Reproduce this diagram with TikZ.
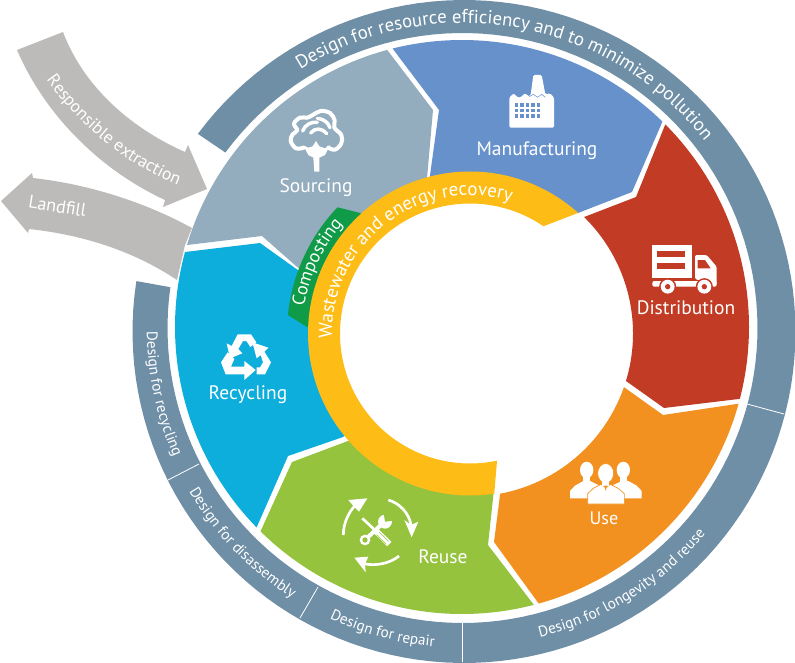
\documentclass[tikz,border=0pt]{standalone}
\usepackage{fontspec}
\setmainfont{PT Sans}
\usetikzlibrary{decorations.text}
\definecolor{cring}{HTML}{6F8FA7}
\definecolor{csrc}{HTML}{93ADBE}
\definecolor{cman}{HTML}{6791CB}
\definecolor{cdis}{HTML}{C23C25}
\definecolor{cuse}{HTML}{F39120}
\definecolor{creu}{HTML}{95C33D}
\definecolor{crec}{HTML}{0DADDC}
\definecolor{cyel}{HTML}{FDBD16}
\definecolor{ccom}{HTML}{0F9B48}
\definecolor{cgre}{HTML}{BDBBB9}
% arcs given in px (y down), angles in the usual mathematical sense
\newcommand\arcm[5]{plot[domain=#4:#5,samples=140,variable=\t] ({#1+#3*cos(\t)},{#2-#3*sin(\t)})}
\newcommand\arcl[5]{-- plot[domain=#4:#5,samples=140,variable=\t] ({#1+#3*cos(\t)},{#2-#3*sin(\t)})}
\newcommand\fz[1]{\fontsize{#1}{#1}\selectfont}
\tikzset{
  lab/.style={text=white,inner sep=0pt,font=\fz{14.6}},
  big/.style={decorate,decoration={text along path,text align=center,text color=white,text={|\fz{14.05}|#1}}},
  wst/.style={decorate,decoration={text along path,text align=center,text color=white,text={|\fz{14.2}|#1}}},
  mid/.style={decorate,decoration={text along path,text align=center,text color=white,text={|\fz{13.6}|#1}}},
  ext/.style={decorate,decoration={text along path,text align=center,text color=white,text={|\fz{13.1}|#1}}},
  sma/.style={decorate,decoration={text along path,text align=center,text color=white,text={|\fz{11.4}|#1}}},
  icon/.style={shift={#1},x=0.25pt,y=-0.25pt}
}
\begin{document}
\begin{tikzpicture}[x=0.75pt,y=-0.75pt]
\useasboundingbox (0,0) rectangle (795,663);
% ---- outer ring
\fill[cring] \arcm{464}{331.5}{331.5}{143.4}{-188.75} \arcl{462.5}{328}{295}{-187.95}{143.5} -- cycle;
\coordinate (d1a) at (747,404); \coordinate (d1b) at (784,414);
\coordinate (d2a) at (462,623); \coordinate (d2b) at (462,662);
\coordinate (d3a) at (318,587); \coordinate (d3b) at (300,618);
\coordinate (d4a) at (199,464); \coordinate (d4b) at (168,480);
\foreach \n in {1,2,3,4} \draw[white,line width=0.6pt] (d\n a) -- (d\n b);
% ---- grey arrows
\fill[cgre] (63,32) .. controls (85,90) and (135,130) .. (185,152) -- (188,145) -- (207,189) -- (163,207) -- (165,200) .. controls (100,170) and (45,115) .. (17,50) -- cycle;
\fill[cgre] (1,201) -- (32,173) -- (33,178) .. controls (95,185) and (150,205) .. (192,228) -- (185,245) -- (177,280) .. controls (135,252) and (85,235) .. (29,229) -- (28,233) -- cycle;
% ---- wedges
\fill[csrc] \arcm{462}{327}{287}{163.4}{105.1} -- (433,110) -- (426,190) -- (305,273) -- (296,266) -- (262,236) -- cycle;
\fill[cman] \arcm{462}{327}{287}{104}{45.7} -- (632,192) -- (578,213) -- (500,200) -- (428,190) -- (439,110) -- cycle;
\fill[cdis] \arcm{462}{327}{287}{44.9}{-14.5} -- (664,408) -- (626,381) \arcl{470}{333.5}{163}{-16.9}{45.6} -- (636,197) -- cycle;
\fill[cuse] \arcm{462}{327}{287}{-15.5}{-74.5} -- (494,542) -- (500,495) \arcl{470}{333.5}{163}{-79.5}{-19.2} -- (663,415) -- cycle;
\fill[creu] \arcm{462}{327}{287}{-75.5}{-134.6} -- (292,462) -- (348,441) -- (420,460) -- (495,480) -- (488,545) -- cycle;
\fill[crec] \arcm{462}{327}{287}{-135.7}{-195.15} -- (260,243) -- (295,268) -- (305,275) -- (315,330) -- (350,432) -- (343,437) -- (288,456) -- cycle;
% ---- inner bands
\fill[ccom] \arcm{470}{333.5}{183}{136.4}{174.2} -- (307,327) \arcl{470}{333.5}{160}{177.7}{131.6} -- cycle;
\fill[cyel] \arcm{470}{333.5}{162}{48.1}{278.6} \arcl{470}{333.5}{130}{282}{55.6} -- cycle;
% ---- curved texts
\path[big={Design for resource efficiency and to minimize pollution}] \arcm{463}{330}{307}{125}{35};
\path[sma={Design for longevity and reuse}] \arcm{463}{330}{317}{-80}{-36};
\path[sma={Design for repair}] \arcm{463}{330}{318}{-118}{-92};
\path[sma={Design for disassembly}] \arcm{463}{330}{318}{-153}{-119};
\path[sma={Design for recycling}] \arcm{463}{330}{316}{-183}{-153};
\path[wst={Wastewater and energy recovery}] \arcm{470}{333.5}{138}{187}{68};
\path[mid={Composting}] \arcm{470}{333.5}{168}{175}{135};
\path[ext={Responsible extraction}] (44,76) .. controls (75,122) and (125,165) .. (182,187);
% ---- labels
\node[lab] (sourcing) at (316,187.5) {Sourcing};
\node[lab] (manufacturing) at (537,150.5) {Manufacturing};
\node[lab] (distribution) at (686,308) {Distribution};
\node[lab] (recycling) at (248,395) {Recycling};
\node[lab] (reuse) at (443,557) {Reuse};
\node[lab,font=\fz{13.6}] (use) at (604,518.5) {Use};
\node[lab,font=\fz{13.6},rotate=-9,anchor=center] (landfill) at (57.5,206) {Landfill};
% ---- cotton icon
\begin{scope}[icon={(280,105)}]
\draw[white,line width=3pt,line cap=round,line join=round] plot[smooth,tension=.6] coordinates {(72,128) (48,130) (32,108) (38,88) (52,76) (42,56) (60,38) (82,38) (98,30) (122,18) (150,24) (164,46) (163,68) (184,90) (184,115) (165,134) (145,128)};
\draw[white,line width=2.6pt,line cap=round] (68,78) .. controls (75,58) and (95,50) .. (112,52);
\draw[white,line width=2.6pt,line cap=round] (92,84) .. controls (105,68) and (125,68) .. (140,86);
\draw[white,line width=2.6pt,line cap=round] (112,40) .. controls (130,42) and (145,52) .. (150,68);
\fill[white] (70,122) -- (85,128) -- (98,124) -- (108,108) -- (118,124) -- (135,130) -- (150,120) -- (135,150) -- (118,158) -- (118,200) -- (103,200) -- (100,158) -- (85,150) -- cycle;
\end{scope}
% ---- factory icon
\begin{scope}[icon={(500,65)}]
\fill[white,rounded corners=1pt] (28,188) -- (28,97) -- (42,85) -- (52,97) -- (62,97) -- (75,85) -- (88,95) -- (92,90) -- (100,30) -- (125,30) -- (136,88) -- (150,85) -- (162,97) -- (162,188) -- cycle;
\draw[cman,line width=0.4pt] (88,95) -- (100,88) -- (113,97) -- (125,88) -- (136,97);
\foreach \i in {0,1,2,3,4} \foreach \j in {0,1,2}
  \fill[cman] ({44+\i*16.5},{115+\j*16}) rectangle +(11,11);
\end{scope}
% ---- truck icon
\begin{scope}[icon={(645,235)}]
\fill[white] (22,30) rectangle (142,128);
\fill[cdis] (35,48) rectangle (120,65);
\fill[cdis] (35,85) rectangle (120,102);
\fill[white,rounded corners=1.5pt] (22,138) rectangle (215,155);
\fill[white,rounded corners=1pt] (150,132) -- (150,60) -- (185,60) -- (215,95) -- (215,150) -- cycle;
\fill[cdis] (158,75) -- (180,75) -- (197,100) -- (158,100) -- cycle;
\fill[cdis] (142,128) rectangle (150,138);
\foreach \cx in {68,178} {
  \fill[cdis] (\cx,155) ellipse[x radius=6.4pt,y radius=6.4pt];
  \fill[white] (\cx,155) ellipse[x radius=5.2pt,y radius=5.2pt];
  \fill[cdis] (\cx,155) ellipse[x radius=2pt,y radius=2pt];
}
\end{scope}
% ---- recycling icon
\begin{scope}[icon={(215,325)}]
\fill[white] (38,82) -- (18,112) -- (32,148) -- (88,148) -- (88,165) -- (122,135) -- (88,108) -- (88,125) -- (48,125) -- (58,102) -- cycle;
\fill[white] (125,148) -- (150,148) -- (168,112) -- (148,80) -- (160,68) -- (112,52) -- (125,100) -- (137,90) -- (144,112) -- (135,127) -- (125,127) -- cycle;
\fill[white] (68,28) -- (108,28) -- (124,52) -- (106,66) -- (94,48) -- (84,48) -- (70,72) -- (82,85) -- (45,100) -- (35,55) -- (50,63) -- cycle;
\end{scope}
% ---- repair icon
\begin{scope}[icon={(335,490)}]
\draw[white,line width=2pt] (25,135) .. controls (25,100) and (40,70) .. (57,50);
\fill[white] (97,25) -- (40,30) -- (57,50) -- (72,65) -- cycle;
\draw[white,line width=2pt] (160,30) .. controls (195,40) and (222,70) .. (228,105);
\fill[white] (230,142) -- (208,90) -- (228,105) -- (250,95) -- cycle;
\draw[white,line width=2pt] (192,198) .. controls (165,220) and (125,228) .. (90,222);
\fill[white] (58,203) -- (100,200) -- (90,222) -- (92,247) -- cycle;
\draw[white,line width=2pt] (82,85) -- (125,125);
\draw[white,line width=4.6pt] (125,125) -- (163,162);
\draw[creu,line width=0.4pt] (133,127) -- (161,154);
\draw[creu,line width=0.4pt] (125,135) -- (153,162);
\draw[white,line width=3pt] (90,150) -- (145,98);
\fill[white] (90,150) ellipse[x radius=4pt,y radius=4pt];
\fill[creu] (90,150) ellipse[x radius=2pt,y radius=2pt];
\fill[white] (150,95) ellipse[x radius=5.2pt,y radius=5.2pt];
\fill[creu] (150,95) -- (146,70) -- (174,70) -- (176,92) -- cycle;
\end{scope}
% ---- people icon
\begin{scope}[icon={(565,455)}]
\fill[white] (65,45) ellipse[x radius=5pt,y radius=6.2pt];
\fill[white] (175,45) ellipse[x radius=5pt,y radius=6.2pt];
\fill[white] (55,60) rectangle (75,85);
\fill[white] (165,60) rectangle (185,85);
\fill[white] (15,130) -- (15,108) -- (30,92) -- (55,78) -- (75,78) -- (110,95) -- (110,130) -- cycle;
\fill[white] (230,130) -- (230,108) -- (215,92) -- (190,78) -- (170,78) -- (135,95) -- (135,130) -- cycle;
\fill[white,draw=cuse,line width=0.5pt] (122,55) ellipse[x radius=6pt,y radius=7.4pt];
\fill[white] (111,70) rectangle (133,95);
\fill[white,draw=cuse,line width=0.5pt] (68,147) -- (68,116) -- (85,100) -- (108,88) -- (122,98) -- (136,88) -- (160,100) -- (178,116) -- (178,147) -- cycle;
\fill[white] (112,80) rectangle (132,94);
\fill[cuse] (118,92) -- (126,92) -- (122,108) -- cycle;
\end{scope}
\end{tikzpicture}
\end{document}
